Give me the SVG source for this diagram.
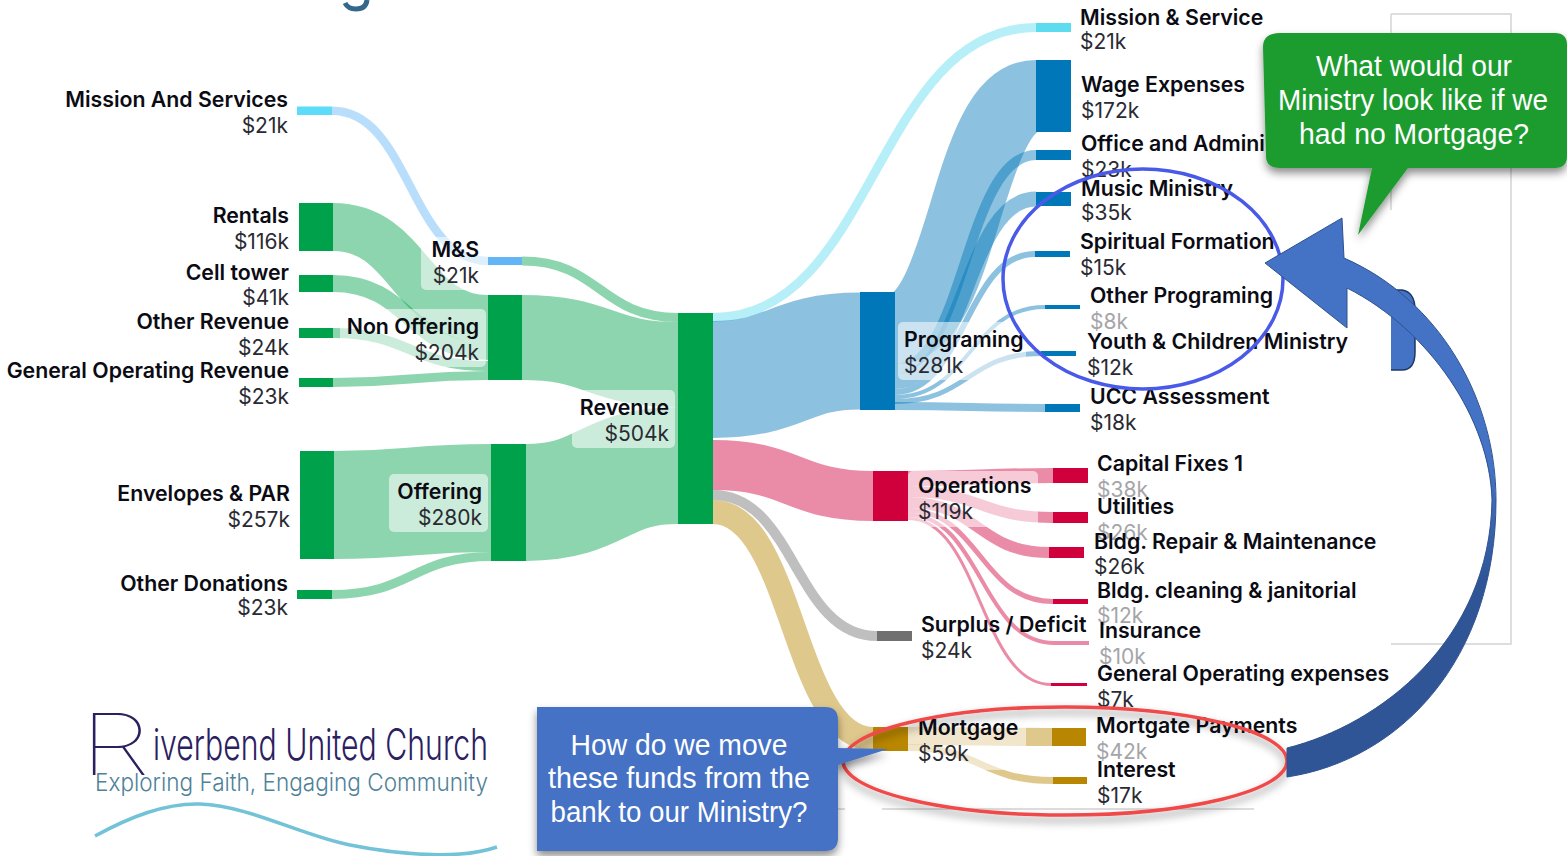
<svg xmlns="http://www.w3.org/2000/svg" width="1567" height="856" viewBox="0 0 1567 856">
<style>
text{font-family:Inter,"Liberation Sans",sans-serif}
.n{font-size:21.3px;font-weight:600;fill:#0b0b14}
.v{font-size:21px;font-weight:400;fill:#2a2a33}
.f{font-size:21px;font-weight:400;fill:#a5a5a8}
.e{text-anchor:end}
#connectors path{fill:none;stroke-opacity:.45}
.g{stroke:#00a14b}.lb{stroke:#0077b8}.pk{stroke:#d0003c}.tn{stroke:#b88600}
.ng{fill:#00a14b}.nb{fill:#0077b8}.nr{fill:#d0003c}.ny{fill:#b88600}
.lab{fill:#fff;fill-opacity:.55}
.c{font-family:"Liberation Sans",Arial,sans-serif;font-size:30px;fill:#fff;text-anchor:middle}
</style>
<defs>
<filter id="sh" x="-10%" y="-15%" width="120%" height="140%"><feDropShadow dx="0" dy="5" stdDeviation="4" flood-color="#000" flood-opacity=".45"/></filter>
<linearGradient id="arr" gradientUnits="userSpaceOnUse" x1="0" y1="470" x2="0" y2="580"><stop offset="0" stop-color="#4472c4"/><stop offset="1" stop-color="#2f5597"/></linearGradient>
</defs>
<rect width="1567" height="856" fill="#fff"/>
<g id="frame" fill="none" stroke="#d4d4d4" stroke-width="1.500">
<path d="M1391 14H1511V644H1391"/><path d="M1391 14V210"/>
<path d="M838 809H845M882 809H1254" stroke="#bbb" stroke-width="1"/>
</g>
<g id="hidden-shape"><path d="M1391 290H1402Q1415 292 1415 310V352Q1415 370 1402 370H1391Z" fill="#4472c4"/><path d="M1391 290H1402Q1415 292 1415 310V352Q1415 370 1402 370H1391" fill="none" stroke="#1f3864" stroke-width="1.500"/></g>
<path id="title-fragment" d="M367 0Q366 9 356 9Q348 9 345 3" fill="none" stroke="#33688c" stroke-width="5"/>
<g id="connectors">
<path stroke="#64b5f6" stroke-width="8.500" d="M332 110.750C410 110.750 410 261 488 261"/>
<path class="g" stroke-width="9" d="M522 261C600 261 600 317.500 678 317.500"/>
<path class="g" stroke-width="48" d="M333 227C410 227 410 319 488 319"/>
<path class="g" stroke-width="17" d="M333 283.500C410 283.500 410 351.500 488 351.500"/>
<path class="g" stroke-width="10" d="M333 333C410 333 410 366 488 366"/>
<path class="g" stroke-width="9" d="M333 382.500C410 382.500 410 375.500 488 375.500"/>
<path class="g" stroke-width="85" d="M522 337.500C600 337.500 600 364.500 678 364.500"/>
<path class="g" stroke-width="117" d="M526 502.500C602 502.500 602 465.500 678 465.500"/>
<path class="g" stroke-width="108" d="M334 505C412 505 412 498 491 498"/>
<path class="g" stroke-width="9" d="M332 594.500C412 594.500 412 556.500 491 556.500"/>
<path stroke="#5ddcf0" stroke-width="9" d="M713 317.500C875 317.500 875 27.500 1036 27.500"/>
<path class="lb" stroke-width="117" d="M713 379.500C787 379.500 787 351 860 351"/>
<path class="pk" stroke-width="50" d="M713 465C793 465 793 496 873 496"/>
<path stroke="#707070" stroke-width="10" d="M713 495C795 495 795 636 877 636"/>
<path class="tn" stroke-width="24" d="M713 512C793 512 793 739 873 739"/>
<path class="lb" stroke-width="72" d="M895 328C965 328 965 96 1036 96"/>
<path class="lb" stroke-width="10" d="M895 369C965 369 965 155 1036 155"/>
<path class="lb" stroke-width="15" d="M895 381.500C965 381.500 965 199 1036 199"/>
<path class="lb" stroke-width="6" d="M895 392C965 392 965 254 1035 254"/>
<path class="lb" stroke-width="4" d="M895 397C970 397 970 307 1045 307"/>
<path class="lb" stroke-width="5" d="M895 401.500C968 401.500 968 353.500 1041 353.500"/>
<path class="lb" stroke-width="8" d="M895 406C970 406 970 408 1045 408"/>
<path class="pk" stroke-width="15" d="M908 478.500C980 478.500 980 475.500 1053 475.500"/>
<path class="pk" stroke-width="11" d="M908 491.500C980 491.500 980 517.500 1053 517.500"/>
<path class="pk" stroke-width="11" d="M908 502.500C978 502.500 978 552.500 1049 552.500"/>
<path class="pk" stroke-width="5" d="M908 510.500C980 510.500 980 601.500 1053 601.500"/>
<path class="pk" stroke-width="4" d="M908 515C981 515 981 643 1054 643"/>
<path class="pk" stroke-width="3" d="M908 518.500C980 518.500 980 684.500 1051 684.500"/>
<path class="tn" stroke-width="18" d="M908 736C980 736 980 737 1052 737"/>
<path class="tn" stroke-width="7" d="M908 747.500C980 747.500 980 780.500 1053 780.500"/>
</g>
<g id="label-backs">
<rect class="lab" x="421" y="237" width="69" height="53" rx="5"/>
<rect class="lab" x="340" y="309" width="146" height="58" rx="5"/>
<rect class="lab" x="572" y="390" width="103" height="58" rx="5"/>
<rect class="lab" x="389" y="474" width="99" height="58" rx="5"/>
<rect class="lab" x="898" y="322" width="128" height="58" rx="5"/>
<rect class="lab" x="908" y="471" width="130" height="56" rx="5"/>
<rect class="lab" x="908" y="715" width="118" height="55" rx="5"/>
</g>
<g id="n-mas"><rect x="297" y="106.500" width="35" height="8.500" fill="#5ddcf9"/><text class="n e" x="288" y="107">Mission And Services</text><text class="v e" x="288" y="133">$21k</text></g>
<g id="n-rentals"><rect class="ng" x="299" y="203" width="34" height="48"/><text class="n e" x="289" y="223">Rentals</text><text class="v e" x="289" y="249">$116k</text></g>
<g id="n-cell"><rect class="ng" x="299" y="275" width="34" height="17"/><text class="n e" x="289" y="280">Cell tower</text><text class="v e" x="289" y="305">$41k</text></g>
<g id="n-other-rev"><rect class="ng" x="299" y="328" width="34" height="10"/><text class="n e" x="289" y="329">Other Revenue</text><text class="v e" x="289" y="355">$24k</text></g>
<g id="n-gen-rev"><rect class="ng" x="299" y="378" width="34" height="9"/><text class="n e" x="289" y="378">General Operating Revenue</text><text class="v e" x="289" y="404">$23k</text></g>
<g id="n-env"><rect class="ng" x="300" y="451" width="34" height="108"/><text class="n e" x="290" y="501">Envelopes &amp; PAR</text><text class="v e" x="290" y="527">$257k</text></g>
<g id="n-don"><rect class="ng" x="297" y="590" width="35" height="9"/><text class="n e" x="288" y="591">Other Donations</text><text class="v e" x="288" y="615">$23k</text></g>
<g id="n-ms"><rect x="488" y="257" width="34" height="8" fill="#64b5f6"/><text class="n e" x="479" y="257">M&amp;S</text><text class="v e" x="479" y="283">$21k</text></g>
<g id="n-non"><rect class="ng" x="488" y="295" width="34" height="85"/><text class="n e" x="479" y="334">Non Offering</text><text class="v e" x="479" y="360">$204k</text></g>
<g id="n-off"><rect class="ng" x="491" y="444" width="35" height="117"/><text class="n e" x="482" y="499">Offering</text><text class="v e" x="482" y="525">$280k</text></g>
<g id="n-rev"><rect class="ng" x="678" y="313" width="35" height="211"/><text class="n e" x="669" y="415">Revenue</text><text class="v e" x="669" y="441">$504k</text></g>
<g id="n-prog"><rect class="nb" x="860" y="292" width="35" height="118"/><text class="n" x="904" y="347">Programing</text><text class="v" x="904" y="373">$281k</text></g>
<g id="n-ops"><rect class="nr" x="873" y="471" width="35" height="50"/><text class="n" x="918" y="493">Operations</text><text class="v" x="918" y="519">$119k</text></g>
<g id="n-sur"><rect x="877" y="631" width="35" height="10" fill="#707070"/><text class="n" x="921" y="632">Surplus / Deficit</text><text class="v" x="921" y="658">$24k</text></g>
<g id="n-mor"><rect class="ny" x="873" y="727" width="35" height="24"/><text class="n" x="918" y="735">Mortgage</text><text class="v" x="918" y="761">$59k</text></g>
<g id="n-mser"><rect x="1036" y="23" width="35" height="9" fill="#5ddcf0"/><text class="n" x="1080" y="25">Mission &amp; Service</text><text class="v" x="1080" y="49">$21k</text></g>
<g id="n-wage"><rect class="nb" x="1036" y="60" width="35" height="72"/><text class="n" x="1081" y="92">Wage Expenses</text><text class="v" x="1081" y="118">$172k</text></g>
<g id="n-office"><rect class="nb" x="1036" y="150" width="35" height="10"/><text class="n" x="1081" y="151">Office and Admini</text><text class="v" x="1081" y="177">$23k</text></g>
<g id="n-music"><rect class="nb" x="1036" y="192" width="35" height="14"/><text class="n" x="1081" y="196">Music Ministry</text><text class="v" x="1081" y="220">$35k</text></g>
<g id="n-spirit"><rect class="nb" x="1035" y="251" width="35" height="6"/><text class="n" x="1080" y="249">Spiritual Formation</text><text class="v" x="1080" y="275">$15k</text></g>
<g id="n-oprog"><rect class="nb" x="1045" y="305" width="35" height="4"/><text class="n" x="1090" y="303">Other Programing</text><text class="f" x="1090" y="329">$8k</text></g>
<g id="n-youth"><rect class="nb" x="1041" y="351" width="35" height="5"/><text class="n" x="1087" y="349">Youth &amp; Children Ministry</text><text class="v" x="1087" y="375">$12k</text></g>
<g id="n-ucc"><rect class="nb" x="1045" y="404" width="35" height="8"/><text class="n" x="1090" y="404">UCC Assessment</text><text class="v" x="1090" y="430">$18k</text></g>
<g id="n-cap"><rect class="nr" x="1053" y="468" width="35" height="15"/><text class="n" x="1097" y="471">Capital Fixes 1</text><text class="f" x="1097" y="497">$38k</text></g>
<g id="n-util"><rect class="nr" x="1053" y="512" width="35" height="11"/><text class="n" x="1097" y="514">Utilities</text><text class="f" x="1097" y="540">$26k</text></g>
<g id="n-rep"><rect class="nr" x="1049" y="547" width="35" height="11"/><text class="n" x="1094" y="549">Bldg. Repair &amp; Maintenance</text><text class="v" x="1094" y="574">$26k</text></g>
<g id="n-clean"><rect class="nr" x="1053" y="599" width="35" height="5"/><text class="n" x="1097" y="598">Bldg. cleaning &amp; janitorial</text><text class="f" x="1097" y="623">$12k</text></g>
<g id="n-ins"><rect x="1054" y="641" width="35" height="4" fill="#e98aa8"/><text class="n" x="1099" y="638">Insurance</text><text class="f" x="1099" y="664">$10k</text></g>
<g id="n-gen"><rect class="nr" x="1051" y="683" width="36" height="3"/><text class="n" x="1097" y="681">General Operating expenses</text><text class="v" x="1097" y="707">$7k</text></g>
<g id="n-pay"><rect class="ny" x="1052" y="728" width="34" height="18"/><text class="n" x="1096" y="733">Mortgate Payments</text><text class="f" x="1096" y="759">$42k</text></g>
<g id="n-int"><rect class="ny" x="1053" y="777" width="34" height="7"/><text class="n" x="1097" y="777">Interest</text><text class="v" x="1097" y="803">$17k</text></g>
<ellipse id="red-ring" cx="1065" cy="761" rx="222" ry="54" fill="none" stroke="#f04a4a" stroke-width="3.500" filter="url(#sh)"/>
<ellipse id="blue-ring" cx="1143" cy="279" rx="140" ry="110" fill="none" stroke="#4a5ae8" stroke-width="3.500"/>
<path id="arrow" d="M1287 777C1400 760 1496 660 1496 500C1496 400 1440 300 1344 258L1342 218L1265 263L1347 328L1347 288C1430 330 1490 420 1492 500C1490 640 1380 725 1287 748Z" fill="url(#arr)" stroke="#2f528f" stroke-width="1"/>
<g id="callout-green"><path d="M1280 33H1555Q1567 33 1567 45V156Q1567 168 1555 168H1408L1358 235L1372 168H1280Q1266 168 1266 156L1263 47Q1263 33 1280 33Z" fill="#1e9c2e" filter="url(#sh)"/>
<text class="c" x="1414" y="76" textLength="196" lengthAdjust="spacingAndGlyphs">What would our</text><text class="c" x="1413" y="110" textLength="270" lengthAdjust="spacingAndGlyphs">Ministry look like if we</text><text class="c" x="1414" y="144" textLength="230" lengthAdjust="spacingAndGlyphs">had no Mortgage?</text></g>
<g id="callout-blue"><path d="M537 707H825Q838 707 838 720V748L888 749L838 765V838Q838 851 825 851H537Z" fill="#4472c4" filter="url(#sh)"/>
<text class="c" x="679" y="755" textLength="217" lengthAdjust="spacingAndGlyphs">How do we move</text><text class="c" x="679" y="788" textLength="262" lengthAdjust="spacingAndGlyphs">these funds from the</text><text class="c" x="679" y="822" textLength="257" lengthAdjust="spacingAndGlyphs">bank to our Ministry?</text></g>
<g id="logo">
<text x="80" y="775" font-size="85" font-weight="100" fill="#2b2060" textLength="70" lengthAdjust="spacingAndGlyphs">R</text>
<text x="153" y="760" font-size="43" font-weight="300" fill="#2b2060" textLength="335" lengthAdjust="spacingAndGlyphs">iverbend United Church</text>
<text x="95" y="791" font-size="24" font-weight="300" fill="#4f8199" textLength="393" lengthAdjust="spacingAndGlyphs">Exploring Faith, Engaging Community</text>
<path d="M95 836C130 817 165 803 200 804C250 806 300 835 350 845C390 853 430 856 460 854C475 853 488 850 497 847" fill="none" stroke="#72c2d8" stroke-width="3.500"/>
</g>
</svg>
